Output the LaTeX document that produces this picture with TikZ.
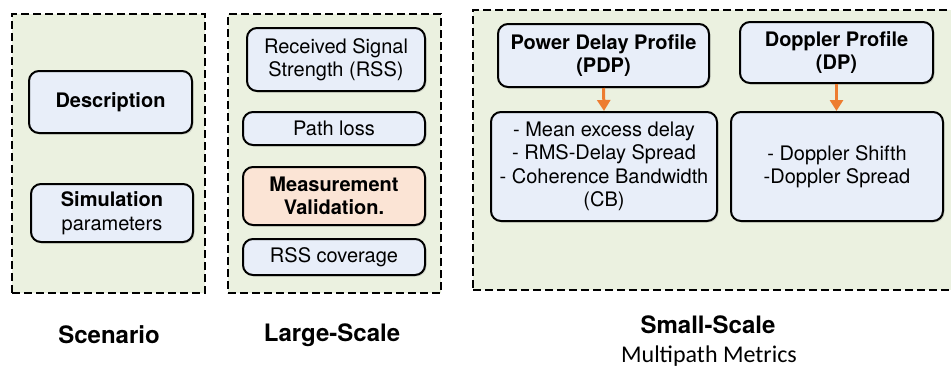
\documentclass[tikz,border=0pt]{standalone}
\usepackage{fontspec}
\setmainfont{TeX Gyre Heros}
\newfontfamily\calib{Carlito}
\usetikzlibrary{arrows.meta,shadows}
\definecolor{outgreen}{HTML}{EBF1E0}
\definecolor{inblue}{HTML}{E8EEF9}
\definecolor{peach}{HTML}{FBE4D5}
\definecolor{arrorange}{HTML}{ED7D31}
\tikzset{
  outbox/.style={draw=black, fill=outgreen, line width=2.8pt, dash pattern=on 8pt off 4pt, inner sep=0pt},
  inbox/.style={draw=black, fill=inblue, line width=2pt, rounded corners=10pt, align=center, inner sep=0pt,
    font=\fontsize{20}{23.5}\selectfont,
    drop shadow={opacity=0.25, shadow xshift=1.5pt, shadow yshift=-1.5pt}},
  caption/.style={font=\fontsize{24}{28}\selectfont\bfseries, inner sep=0pt},
  flowarrow/.style={draw=arrorange, line width=3pt, -{Triangle[width=13pt,length=11pt]}},
}
\begin{document}
\begin{tikzpicture}[x=1pt,y=-1pt]
\useasboundingbox (0,0) rectangle (951,368);
\clip (0,0) rectangle (951,368);
% Scenario
\node[outbox, minimum width=193pt, minimum height=279pt] (scen) at (108.5,153.5) {};
\node[inbox, minimum width=163pt, minimum height=62pt] (desc) at (110.5,102) {\bfseries Description};
\node[inbox, minimum width=162pt, minimum height=58pt] (sim) at (112,213) {\bfseries Simulation\\parameters};
% Large-scale
\node[outbox, minimum width=213pt, minimum height=279pt] (large) at (334.5,153.5) {};
\node[inbox, minimum width=178pt, minimum height=63pt] (rss) at (336,59.5) {Received Signal\\Strength (RSS)};
\node[inbox, minimum width=182pt, minimum height=33pt] (path) at (334,128.5) {Path loss};
\node[inbox, fill=peach, minimum width=182pt, minimum height=58pt] (meas) at (334,196) {\bfseries Measurement\\\bfseries Validation.};
\node[inbox, minimum width=182pt, minimum height=36pt] (cov) at (334,257) {RSS coverage};
% Small-scale
\node[outbox, minimum width=487pt, minimum height=280pt] (small) at (716.5,150) {};
\node[inbox, minimum width=211pt, minimum height=63pt] (pdp) at (603.5,55.5) {\bfseries Power Delay Profile\\\bfseries (PDP)};
\node[inbox, minimum width=193pt, minimum height=61pt] (dp) at (836.5,52.5) {\bfseries Doppler Profile\\\bfseries (DP)};
\node[inbox, minimum width=226pt, minimum height=109pt] (mean) at (604,166.5) {- Mean excess delay\\- RMS-Delay Spread\\- Coherence Bandwidth\\(CB)};
\node[inbox, minimum width=212pt, minimum height=109pt] (dop) at (837,166.5) {- Doppler Shifth\\-Doppler Spread};
\draw[flowarrow] (pdp.south) -- (mean.north);
\draw[flowarrow] (dp.south) -- (dop.north -| dp.south);
% captions
\node[caption] (capscen) at (109,335) {Scenario};
\node[caption] (caplarge) at (332,335) {Large-Scale};
\node[caption] (capsmall) at (708,325) {Small-Scale};
\node[inner sep=0pt, font=\calib\fontsize{24}{28}\selectfont] (capmulti) at (709,356) {Multipath Metrics};
\end{tikzpicture}
\end{document}
